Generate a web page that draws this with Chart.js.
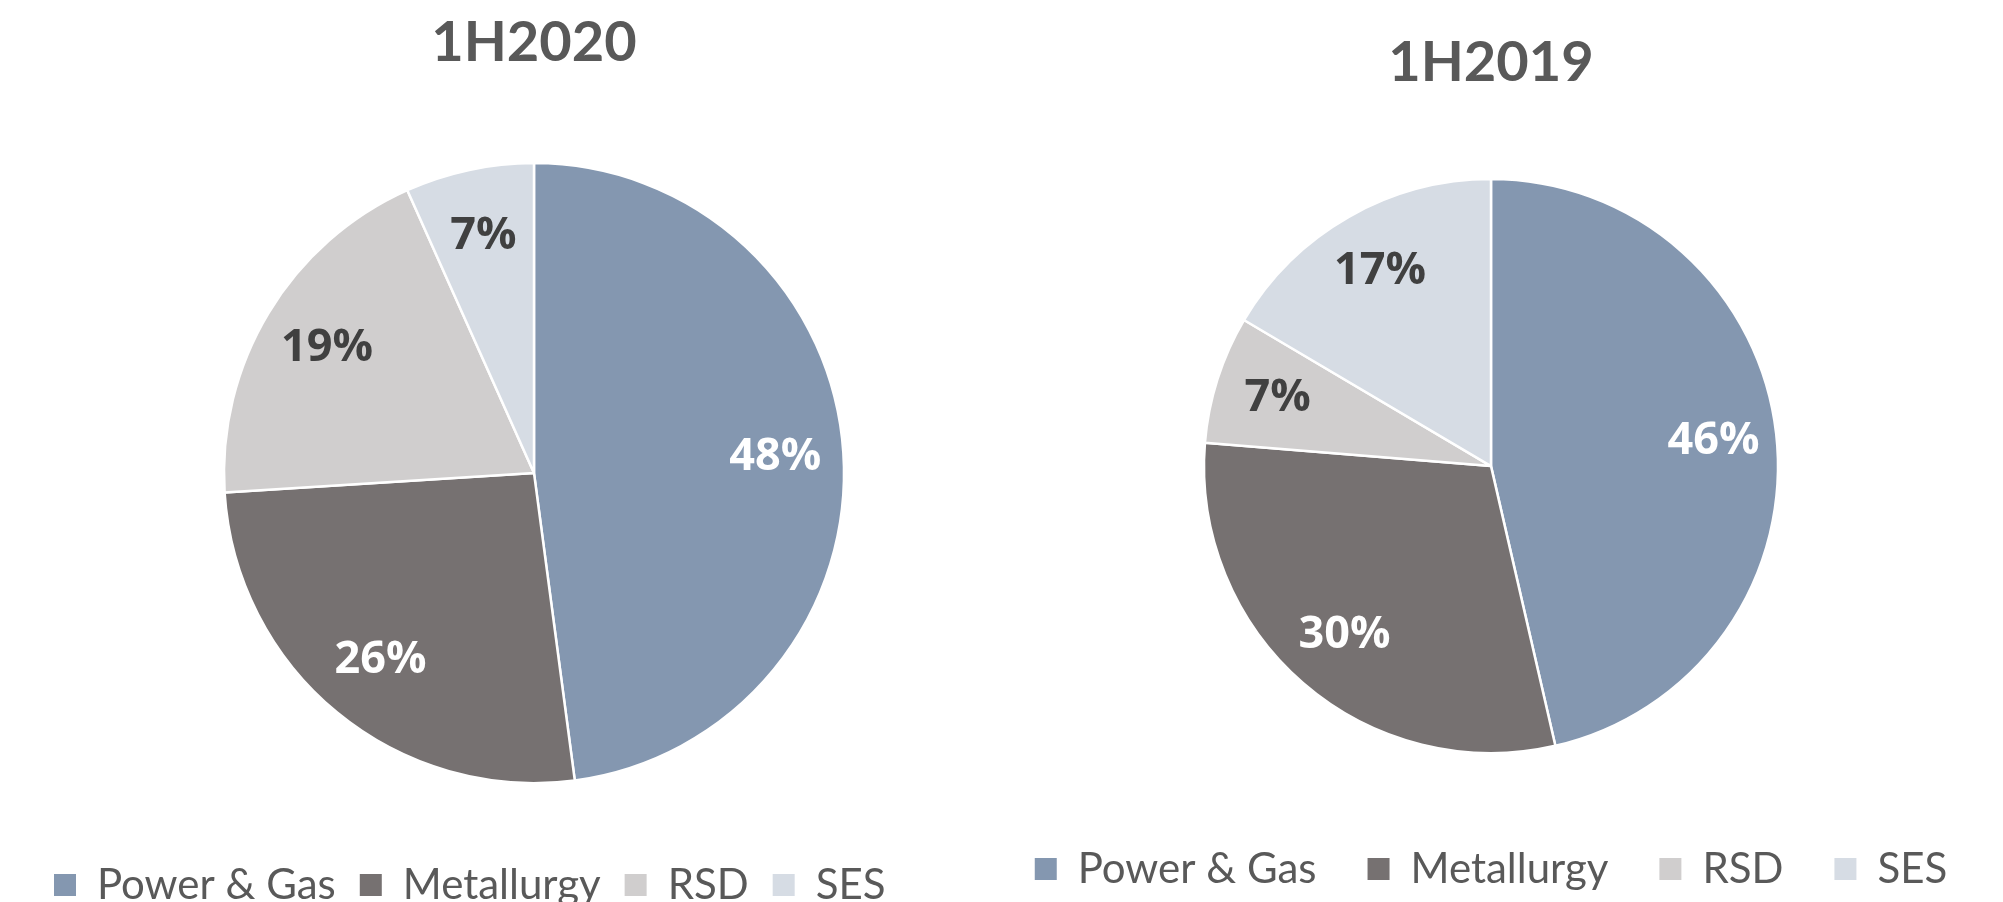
<!DOCTYPE html>
<html>
<head>
<meta charset="utf-8">
<script src="https://cdn.jsdelivr.net/npm/chart.js@4.4.0/dist/chart.umd.min.js"></script>
<style>
    html, body { margin: 0; padding: 0; background: #ffffff; width: 2003px; height: 902px; overflow: hidden; position: relative; }
    canvas { position: absolute; top: 0; }
    #pie2020 { left: 0px; }
    #pie2019 { left: 941px; }
</style>
</head>
<body>
<canvas id="pie2020" width="1068" height="916"></canvas>
<canvas id="pie2019" width="1100" height="900"></canvas>
<script>
// segments, shares in %
const categories = ["Power & Gas", "Metallurgy", "RSD", "SES"];
const share2020 = [47.9, 26.1, 19.3, 6.7];
const share2019 = [46.4, 29.9, 7.2, 16.5];
const titles = ["1H2020", "1H2019"];

const sliceColors = ["#8497B0", "#767171", "#D0CECE", "#D6DCE4"];
const labelColors = ["#FFFFFF", "#FFFFFF", "#404040", "#404040"];

// draws the % label inside every slice
const sliceLabels = {
    id: "sliceLabels",
    afterDatasetsDraw(chart) {
        const ctx = chart.ctx;
        const meta = chart.getDatasetMeta(0);
        const values = chart.data.datasets[0].data;
        ctx.save();
        ctx.font = "bold 45px 'Open Sans'";
        ctx.textAlign = "center";
        ctx.textBaseline = "middle";
        meta.data.forEach((arc, i) => {
            const p = arc.getProps(["x", "y", "startAngle", "endAngle", "outerRadius"], true);
            const mid = (p.startAngle + p.endAngle) / 2;
            const r = p.outerRadius * 0.78;
            ctx.fillStyle = labelColors[i];
            ctx.fillText(Math.round(values[i]) + "%", p.x + Math.cos(mid) * r, p.y + Math.sin(mid) * r);
        });
        ctx.restore();
    }
};

const makePie = (canvasId, title, values, cfg) => {
    return new Chart(document.getElementById(canvasId), {
        type: "pie",
        data: {
            labels: categories,
            datasets: [{
                data: values,
                backgroundColor: sliceColors,
                borderColor: "#FFFFFF",
                borderWidth: 2.5,
                radius: cfg.radius
            }]
        },
        options: {
            responsive: false,
            animation: false,
            layout: { padding: { left: cfg.side, right: cfg.side } },
            plugins: {
                tooltip: { enabled: false },
                title: {
                    display: true,
                    text: title,
                    color: "#595959",
                    font: { family: "Lato", size: 56, weight: "bold", lineHeight: 1.2 },
                    padding: cfg.titlePad
                },
                legend: {
                    position: "bottom",
                    align: cfg.align,
                    labels: {
                        color: "#595959",
                        font: { family: "Lato", size: 42 },
                        boxWidth: 22,
                        boxHeight: 22,
                        padding: cfg.legendPad,
                        generateLabels: (chart) =>
                            Chart.overrides.pie.plugins.legend.labels.generateLabels(chart)
                                .map(item => ({ ...item, lineWidth: 0 }))
                    }
                }
            }
        },
        plugins: [sliceLabels]
    });
};

makePie("pie2020", titles[0], share2020, {
    radius: 310, side: 30, align: "start", legendPad: 24,
    titlePad: { top: 9, bottom: 30 }
});
makePie("pie2019", titles[1], share2019, {
    radius: 287, side: 0, align: "center", legendPad: 51,
    titlePad: { top: 29, bottom: 39 }
});
</script>
</body>
</html>
